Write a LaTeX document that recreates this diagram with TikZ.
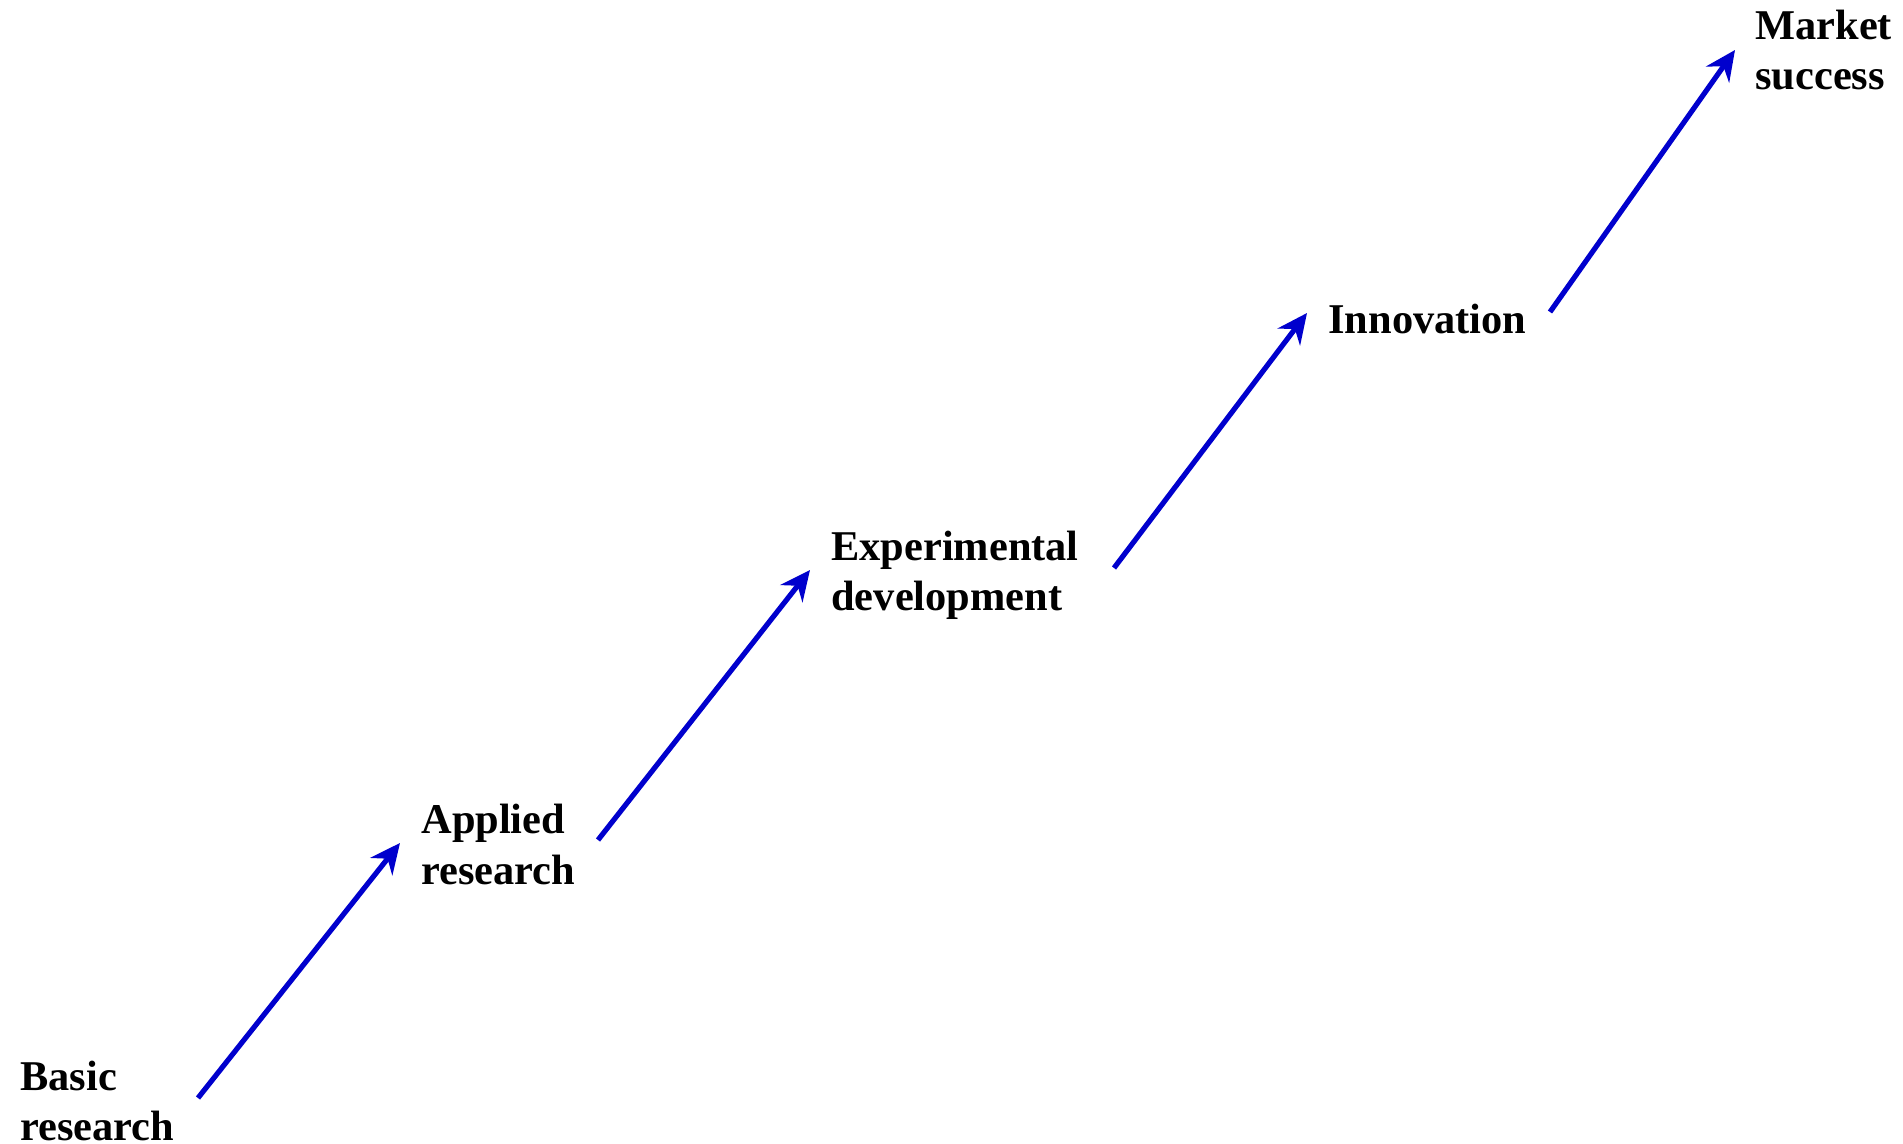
\documentclass[tikz,border=0pt]{standalone}
\usepackage{fontspec}
\setmainfont{Liberation Serif}
\usetikzlibrary{arrows.meta}
\definecolor{stageblue}{RGB}{0,0,205}

\begin{document}
\begin{tikzpicture}[x=0.5pt,y=-0.5pt]
	\tikzstyle{stage}=[anchor=base west,align=left,inner sep=0pt,font=\fontsize{21.2}{25}\selectfont\bfseries]
	\tikzstyle{progress}=[draw=stageblue,line width=2.6pt,-{Stealth[length=15pt,width=14pt,inset=5pt]}]
	\useasboundingbox (0,0) rectangle (1903,1144);

	% The stages (anchored at the baseline of their last line)
	\node[stage] (basic) at (20,1140) {Basic\\research};
	\node[stage] (applied) at (421,884) {Applied\\research};
	\node[stage] (experimental) at (831,611) {Experimental\\development};
	\node[stage] (innovation) at (1328,334) {Innovation};
	\node[stage] (market) at (1755,90) {Market\\success};

	% Ends of the arrows
	\coordinate (basic-out) at (198,1098);
	\coordinate (applied-in) at (400,843);
	\coordinate (applied-out) at (598,840);
	\coordinate (experimental-in) at (810,570);
	\coordinate (experimental-out) at (1114,568);
	\coordinate (innovation-in) at (1307,313);
	\coordinate (innovation-out) at (1550,312);
	\coordinate (market-in) at (1735,50);

	% Connect each stage with the next one
	\foreach \from/\to in {basic-out/applied-in,applied-out/experimental-in,experimental-out/innovation-in,innovation-out/market-in}
	\draw[progress] (\from) -- (\to);

\end{tikzpicture}
\end{document}
